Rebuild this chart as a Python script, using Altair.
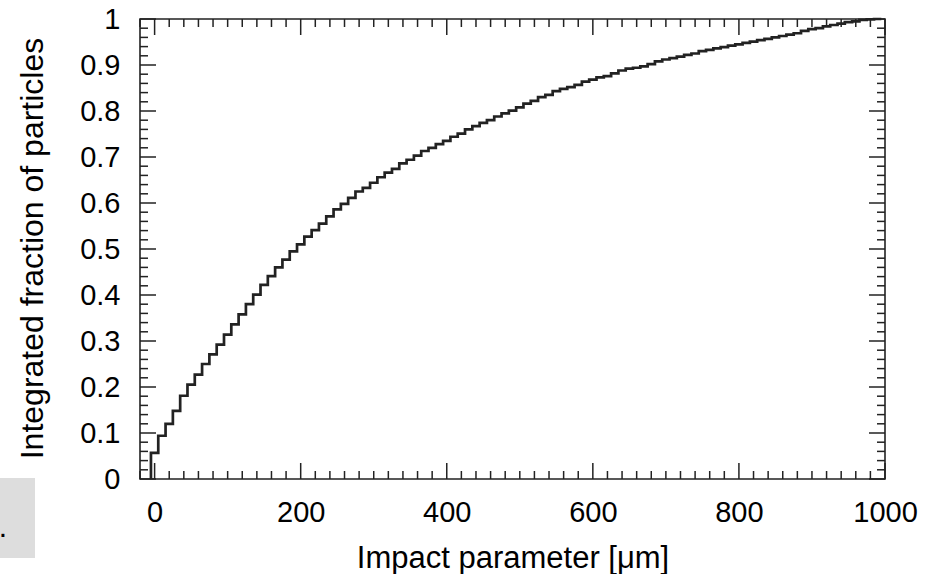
import altair as alt
import pandas as pd

# Histogram: 100 bins of width 10 starting at -5 (cumulative fraction)
bin_start = -5
bin_width = 10
cum_fraction = [
    0.057, 0.094, 0.120, 0.148, 0.181, 0.205, 0.227, 0.250, 0.271, 0.292,
    0.314, 0.336, 0.358, 0.380, 0.401, 0.422, 0.441, 0.460, 0.477, 0.495,
    0.510, 0.527, 0.541, 0.555, 0.571, 0.586, 0.598, 0.611, 0.625, 0.633,
    0.644, 0.656, 0.666, 0.674, 0.686, 0.694, 0.703, 0.713, 0.720, 0.728,
    0.735, 0.744, 0.751, 0.760, 0.767, 0.774, 0.780, 0.788, 0.795, 0.801,
    0.808, 0.816, 0.822, 0.830, 0.835, 0.843, 0.848, 0.852, 0.857, 0.864,
    0.868, 0.873, 0.876, 0.882, 0.888, 0.892, 0.894, 0.897, 0.902, 0.908,
    0.912, 0.915, 0.918, 0.922, 0.925, 0.930, 0.933, 0.936, 0.939, 0.942,
    0.945, 0.948, 0.951, 0.954, 0.957, 0.960, 0.963, 0.966, 0.969, 0.974,
    0.978, 0.980, 0.984, 0.987, 0.990, 0.993, 0.995, 0.998, 0.999, 1.000,
]

x_major = [0, 200, 400, 600, 800, 1000]
x_minor = [v for v in range(-20, 1001, 20) if v % 200 != 0]
y_major = [round(i * 0.1, 2) for i in range(11)]
y_minor = [round(i * 0.02, 2) for i in range(51) if i % 5 != 0]

# step outline vertices
xs, ys, order = [bin_start], [0.0], [0]
for k, v in enumerate(cum_fraction):
    left = bin_start + k * bin_width
    right = left + bin_width
    xs += [left, right]
    ys += [v, v]
    order += [len(order), len(order) + 1]
hist = pd.DataFrame({"t": xs, "y": ys, "o": order})

W, H = 745, 460
FONT = "Liberation Sans"
INK = "#222222"
XT = "Impact parameter [μm]"
YT = "Integrated fraction of particles"

xscale = alt.Scale(domain=[-20, 1000], nice=False, zero=False)
yscale = alt.Scale(domain=[0, 1], nice=False, zero=False)

x_axis = alt.Axis(values=x_major, format="d", ticks=False, tickSize=0, domain=False, grid=False,
                  labelFontSize=29, labelFont=FONT, labelColor="black",
                  labelPadding=19, labelFlush=False,
                  title=XT, titleFont=FONT, titleFontSize=31,
                  titleFontWeight="normal", titleColor="black",
                  titleBaseline="alphabetic", titleY=88)
y_axis = alt.Axis(values=y_major, format=".1~f", ticks=False, tickSize=0, domain=False,
                  grid=False, labelFontSize=29, labelFont=FONT, labelColor="black",
                  labelPadding=20, labelFlush=False,
                  title=YT, titleFont=FONT,
                  titleFontSize=32, titleFontWeight="normal", titleColor="black",
                  titleBaseline="alphabetic", titleX=-98, titleY=229)

line = alt.Chart(hist).mark_line(color=INK, strokeWidth=2.7, strokeJoin="miter").encode(
    x=alt.X("t:Q", scale=xscale, axis=x_axis, title=XT),
    y=alt.Y("y:Q", scale=yscale, axis=y_axis, title=YT),
    order="o:Q",
)

def xticks(vals, length):
    df = pd.DataFrame({"t": vals})
    base = alt.Chart(df).mark_rule(color=INK, strokeWidth=1.5)
    enc_x = alt.X("t:Q", scale=xscale, axis=x_axis, title=XT)
    bottom = base.encode(x=enc_x, y=alt.value(H), y2=alt.value(H - length))
    top = base.encode(x=enc_x, y=alt.value(0), y2=alt.value(length))
    return [bottom, top]

def yticks(vals, length):
    df = pd.DataFrame({"y": vals})
    base = alt.Chart(df).mark_rule(color=INK, strokeWidth=1.5)
    enc_y = alt.Y("y:Q", scale=yscale, axis=y_axis, title=YT)
    left = base.encode(y=enc_y, x=alt.value(0), x2=alt.value(length))
    right = base.encode(y=enc_y, x=alt.value(W), x2=alt.value(W - length))
    return [left, right]

one = pd.DataFrame({"a": [0]})
box = alt.Chart(one).mark_rect(color="#dddddd").encode(
    x=alt.value(-140), x2=alt.value(-105), y=alt.value(459), y2=alt.value(539))
dot = alt.Chart(one).mark_text(text=".", fontSize=30, font=FONT, color="black",
                               align="center", baseline="alphabetic").encode(
    x=alt.value(-137), y=alt.value(518))

layers = ([line] + xticks(x_major, 16) + xticks(x_minor, 8)
          + yticks(y_major, 16) + yticks(y_minor, 8) + [box, dot])

chart = alt.layer(*layers).properties(
    width=W, height=H,
    autosize=alt.AutoSizeParams(type="none"),
    padding={"left": 140, "top": 19, "right": 53, "bottom": 95},
    background="white",
).configure_view(stroke=INK, strokeWidth=1.6)

chart.save("out.html", embed_options={"renderer": "svg", "actions": False})
